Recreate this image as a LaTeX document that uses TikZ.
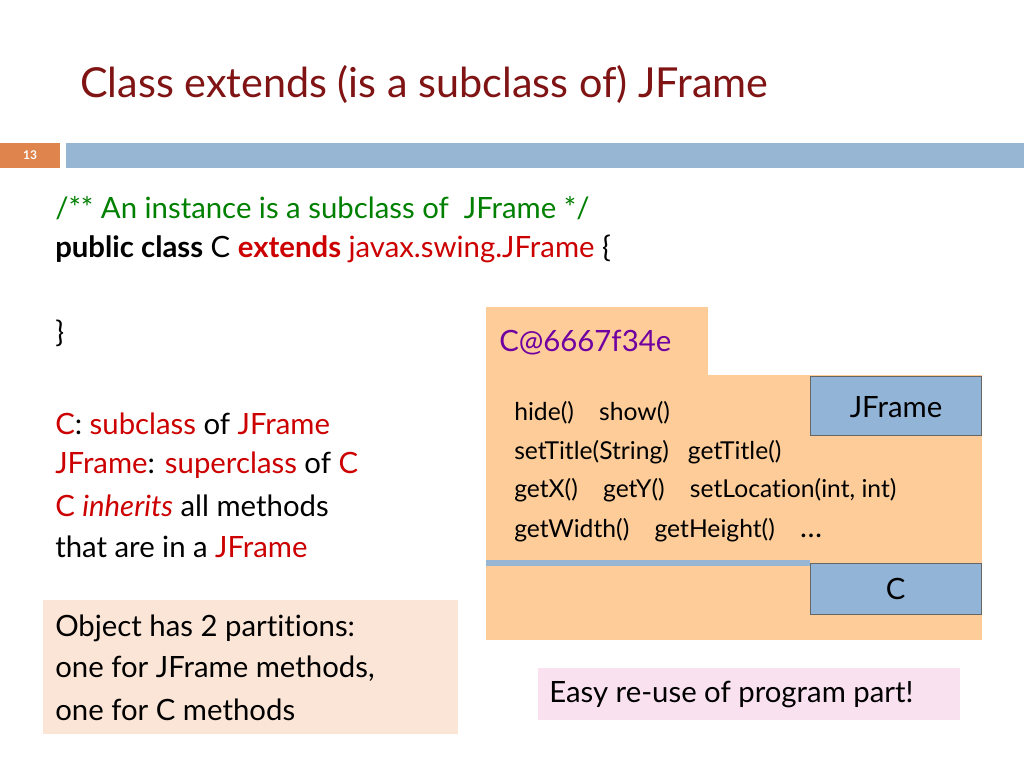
\documentclass[tikz,border=0pt]{standalone}
\usepackage{fontspec}
\setmainfont[Ligatures=NoCommon]{Lato}
\definecolor{ttl}{RGB}{128,20,20}
\definecolor{grn}{RGB}{0,128,0}
\definecolor{rd}{RGB}{204,0,0}
\definecolor{obj}{RGB}{253,204,153}
\definecolor{bluebox}{RGB}{146,180,214}
\definecolor{barblue}{RGB}{151,182,212}
\definecolor{barorg}{RGB}{223,132,76}
\definecolor{pk}{RGB}{251,229,214}
\definecolor{pk2}{RGB}{250,225,240}
\definecolor{purp}{RGB}{112,0,160}
\begin{document}
\begin{tikzpicture}[x=0.75pt,y=-0.75pt,
  txt/.style={anchor=west,inner sep=0pt,font=\fontsize{22}{24}\selectfont},
  small/.style={anchor=west,inner sep=0pt,font=\fontsize{18.5}{20}\selectfont}]
\useasboundingbox (0,0) rectangle (1024,768);
\fill[white] (0,0) rectangle (1024,768);
\node[anchor=west,inner sep=0pt,text=ttl,font=\fontsize{31}{34}\selectfont] (title) at (80,84) {Class extends (is a subclass of) JFrame};
\fill[barorg] (0,143) rectangle (60,168);
\node[text=white,font=\fontsize{9}{10}\selectfont\bfseries] (num) at (30,155) {13};
\fill[barblue] (66,143) rectangle (1024,168);
\node[txt,text=grn] (c1) at (55,208) {/** An instance is a subclass of\ \ JFrame */};
\node[txt] (c2) at (55,249) {\textbf{public class} C \textcolor{rd}{\textbf{extends}} \textcolor{rd}{javax.swing.JFrame} \{};
\node[txt] (c3) at (55,333) {\}};
\node[txt] (l1) at (55,424) {\textcolor{rd}{C}: \textcolor{rd}{subclass} of \textcolor{rd}{JFrame}};
\node[txt] (l2) at (55,465) {\textcolor{rd}{JFrame}: \textcolor{rd}{superclass} of \textcolor{rd}{C}};
\node[txt] (l3) at (55,506) {\textcolor{rd}{C} \textcolor{rd}{\itshape inherits} all methods};
\node[txt] (l4) at (55,547) {that are in a \textcolor{rd}{JFrame}};
\fill[pk] (43,600) rectangle (458,734);
\node[txt] (p1) at (55,628) {Object has 2 partitions:};
\node[txt] (p2) at (55,669) {one for JFrame methods,};
\node[txt] (p3) at (55,710) {one for C methods};
\fill[obj] (486,307) rectangle (708,376);
\fill[obj] (486,375) rectangle (982,640);
\node[txt,text=purp] (oname) at (499,343) {C@6667f34e};
\draw[barblue,line width=4pt] (486,563) -- (810,563);
\node[draw=black!60,fill=bluebox,minimum width=128pt,minimum height=44pt,inner sep=0pt,anchor=north west] (jf) at (810,376) {};
\node[txt,anchor=center] (jft) at (896,407) {JFrame};
\node[draw=black!60,fill=bluebox,minimum width=128pt,minimum height=38pt,inner sep=0pt,anchor=north west] (cb) at (810,563) {};
\node[txt,anchor=center] (cbt) at (cb.center) {C};
\node[small] (m1) at (514,413) {hide()\ \ \ \ show()};
\node[small] (m2) at (514,452) {setTitle(String)\ \ \ getTitle()};
\node[small] (m3) at (514,490) {getX()\ \ \ \ getY()\ \ \ \ setLocation(int, int)};
\node[small] (m4) at (514,530) {getWidth()\ \ \ \ getHeight()\ \ \ \ \fontsize{22}{24}\selectfont …};
\fill[pk2] (538,668) rectangle (960,720);
\node[txt] (easy) at (549,695) {Easy re-use of program part!};
\end{tikzpicture}
\end{document}
